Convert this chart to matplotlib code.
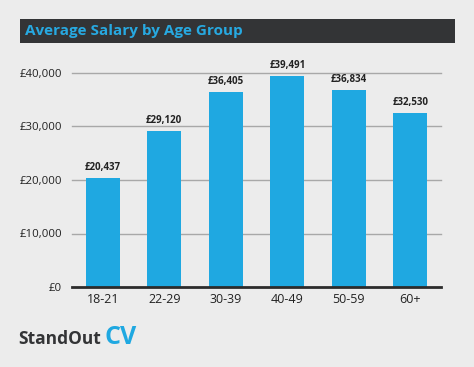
import matplotlib.pyplot as plt
from matplotlib.patches import Rectangle

age_groups = ["18-21", "22-29", "30-39", "40-49", "50-59", "60+"]
salaries = [20437, 29120, 36405, 39491, 36834, 32530]
y_ticks = [0, 10000, 20000, 30000, 40000]

bg = "#ececec"
blue = "#1fa8e1"
dark = "#333436"

plt.rcParams["font.family"] = ["Open Sans", "DejaVu Sans"]

fig = plt.figure(figsize=(4.74, 3.67), dpi=100, facecolor=bg)
W, H = 474, 367

# title bar
fig.patches.append(Rectangle((20 / W, 1 - 43 / H), 435 / W, 24 / H,
                             transform=fig.transFigure, facecolor=dark,
                             edgecolor="none", zorder=0))
fig.text(25 / W, 1 - 31 / H, "Average Salary by Age Group", color="#27a9e1",
         fontsize=11, fontweight="bold", va="center", ha="left")

ax = fig.add_axes([72 / W, 1 - 287 / H, 369 / W, 214 / H])
ax.set_facecolor(bg)
x = range(len(age_groups))
bars = ax.bar(x, salaries, width=0.56, color=blue, zorder=3)
for b, v in zip(bars, salaries):
    ax.text(b.get_x() + b.get_width() / 2, v + 900, f"£{v:,}", ha="center",
            va="bottom", fontsize=7, fontweight="bold", color="#222222",
            zorder=4)

ax.set_xlim(-0.5, 5.5)
ax.set_ylim(0, 40000)
ax.set_yticks(y_ticks)
ax.set_yticklabels([f"£{t:,}" for t in y_ticks], fontsize=8.2, color="#222222")
ax.set_xticks(list(x))
ax.set_xticklabels(age_groups, fontsize=9, color="#222222")
ax.tick_params(axis="y", length=0, pad=7)
ax.tick_params(axis="x", length=0, pad=4)
for t in y_ticks[1:]:
    ax.axhline(t, color="#a8a8a8", lw=1, zorder=1, clip_on=False)
ax.axhline(0, color="#2b2b2b", lw=2, zorder=4, clip_on=False)
for s in ax.spines.values():
    s.set_visible(False)

# logo
fig.text(18 / W, 1 - 339 / H, "StandOut", color=dark, fontsize=12.5,
         fontweight="bold", va="center", ha="left")
fig.text(104 / W, 1 - 338 / H, "CV", color=blue, fontsize=18,
         fontweight="bold", va="center", ha="left")

fig.savefig("out.png", dpi=100, facecolor=bg)
